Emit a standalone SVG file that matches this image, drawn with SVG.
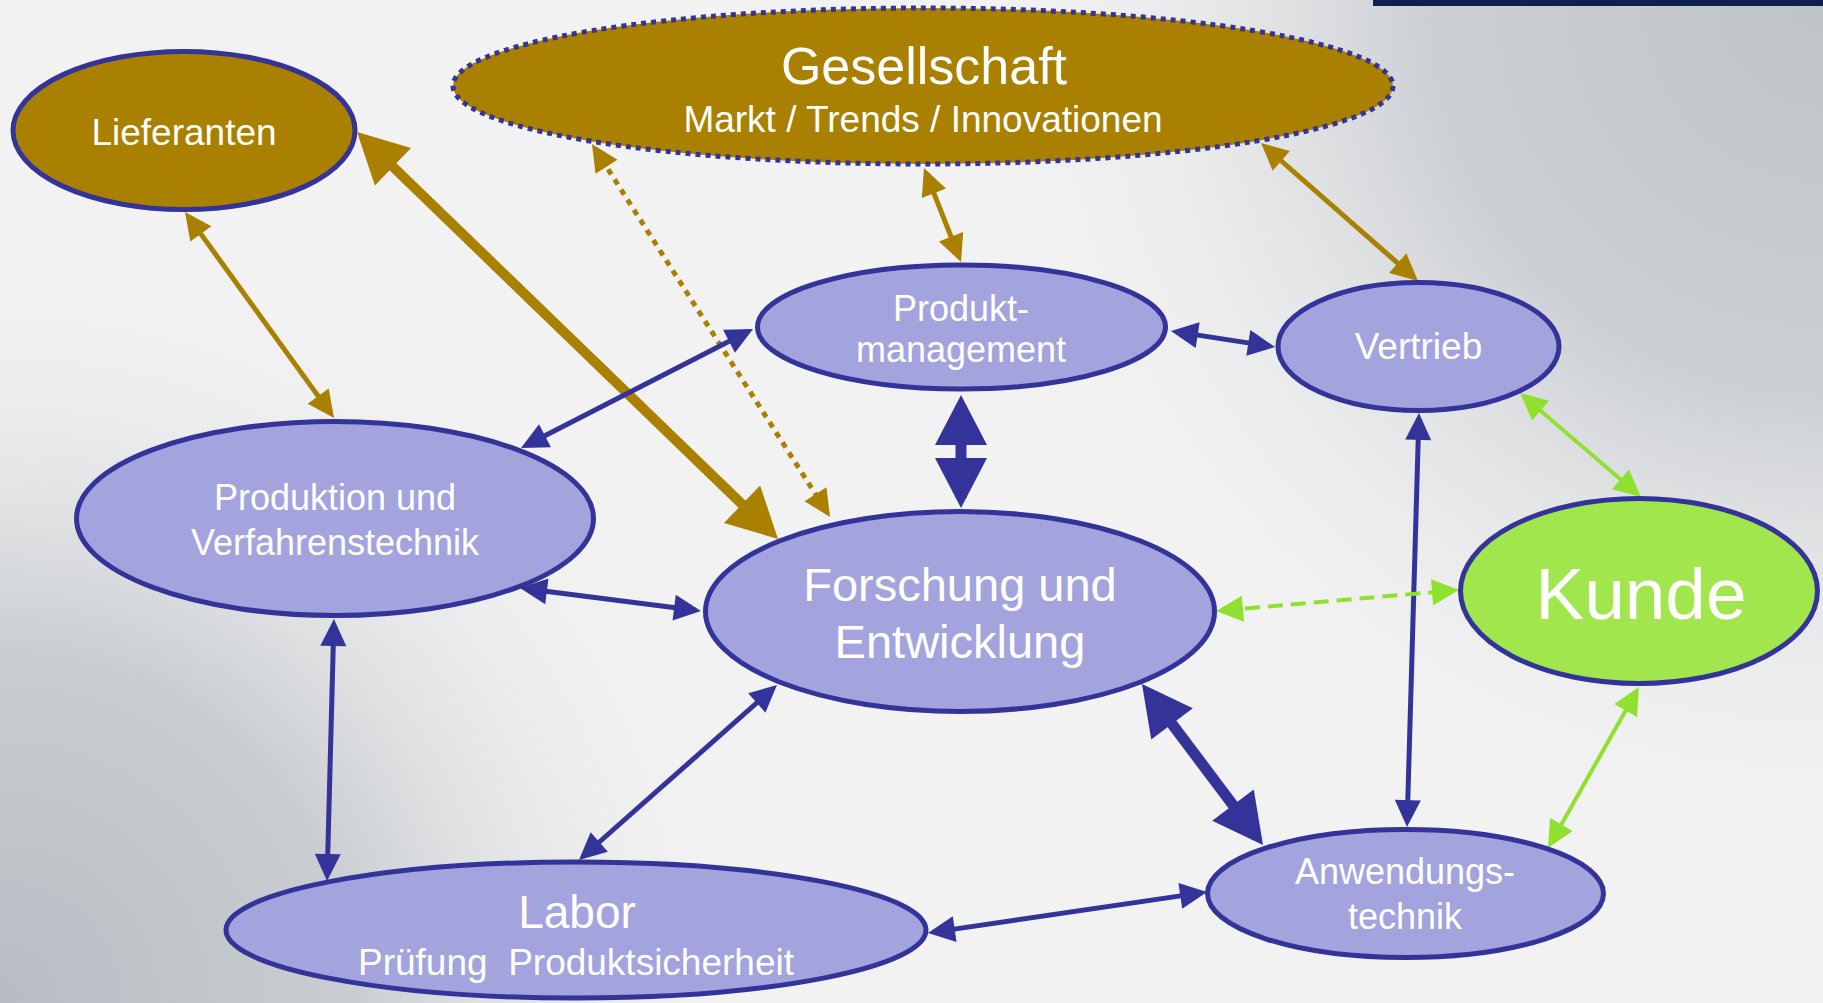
<svg xmlns="http://www.w3.org/2000/svg" width="1823" height="1003" viewBox="0 0 1823 1003">
<defs>
<radialGradient id="bgBL" gradientUnits="userSpaceOnUse" cx="0" cy="1003" r="780">
<stop offset="0" stop-color="#B6BCC2" stop-opacity="1"/>
<stop offset="0.45" stop-color="#BFC4C9" stop-opacity="0.8"/>
<stop offset="1" stop-color="#F2F2F2" stop-opacity="0"/>
</radialGradient>
<radialGradient id="bgTR" gradientUnits="userSpaceOnUse" cx="1823" cy="0" r="880">
<stop offset="0" stop-color="#BEC3C8" stop-opacity="1"/>
<stop offset="0.45" stop-color="#C6CACF" stop-opacity="0.85"/>
<stop offset="1" stop-color="#F2F2F2" stop-opacity="0"/>
</radialGradient>
<marker id="hOl" markerUnits="userSpaceOnUse" markerWidth="30" markerHeight="30" refX="21" refY="13" orient="auto-start-reverse" overflow="visible"><path d="M0,0 L27,13 L0,26 z" fill="#AA8000"/></marker>
<marker id="hBl" markerUnits="userSpaceOnUse" markerWidth="30" markerHeight="30" refX="21" refY="13" orient="auto-start-reverse" overflow="visible"><path d="M0,0 L27,13 L0,26 z" fill="#333399"/></marker>
<marker id="hGr" markerUnits="userSpaceOnUse" markerWidth="30" markerHeight="30" refX="21" refY="13" orient="auto-start-reverse" overflow="visible"><path d="M0,0 L27,13 L0,26 z" fill="#8FE02F"/></marker>
<marker id="HOl" markerUnits="userSpaceOnUse" markerWidth="60" markerHeight="60" refX="40" refY="26" orient="auto-start-reverse" overflow="visible"><path d="M0,0 L50,26 L0,52 z" fill="#AA8000"/></marker>
<marker id="HBl" markerUnits="userSpaceOnUse" markerWidth="60" markerHeight="60" refX="40" refY="26" orient="auto-start-reverse" overflow="visible"><path d="M0,0 L50,26 L0,52 z" fill="#333399"/></marker>
</defs>
<style>
.node{stroke:#333399;stroke-width:5}
.lav{fill:#A3A3DE}
.olv{fill:#AA8000}
.grn{fill:#A1E64C}
text{font-family:"Liberation Sans",Arial,sans-serif;fill:#FFFFFF;text-anchor:middle}
.ol{stroke:#AA8000;stroke-width:5;fill:none;marker-start:url(#hOl);marker-end:url(#hOl)}
.bl{stroke:#333399;stroke-width:5;fill:none;marker-start:url(#hBl);marker-end:url(#hBl)}
.gr{stroke:#8FE02F;stroke-width:4;fill:none;marker-start:url(#hGr);marker-end:url(#hGr)}
.OL{stroke:#AA8000;stroke-width:10;fill:none;marker-start:url(#HOl);marker-end:url(#HOl)}
.BL{stroke:#333399;stroke-width:11;fill:none;marker-start:url(#HBl);marker-end:url(#HBl)}
</style>
<rect x="0" y="0" width="1823" height="1003" fill="#F2F2F2"/>
<rect x="0" y="0" width="1823" height="1003" fill="url(#bgBL)"/>
<rect x="0" y="0" width="1823" height="1003" fill="url(#bgTR)"/>
<rect x="1373" y="0" width="450" height="6" fill="#0F1F52"/>

<g id="connectors">
<line class="ol" x1="188.5" y1="216.9" x2="330.5" y2="413.1"/>
<line class="OL" x1="364.2" y1="139" x2="770.8" y2="532"/>
<line class="ol" x1="595.2" y1="149.1" x2="826.8" y2="511.9" stroke-width="6" stroke-dasharray="6 6"/>
<line class="ol" x1="926.2" y1="173.6" x2="958.8" y2="256.4"/>
<line class="ol" x1="1265.5" y1="147" x2="1413.5" y2="277"/>
<line class="bl" x1="1176.9" y1="331.9" x2="1269.1" y2="346.1"/>
<line class="bl" x1="747.7" y1="331.7" x2="526.3" y2="445.3"/>
<line class="BL" x1="961" y1="405" x2="961" y2="498"/>
<line class="bl" x1="526" y1="588.8" x2="695" y2="610.2"/>
<line class="bl" x1="333.8" y1="625" x2="327.2" y2="875"/>
<line class="bl" x1="583.5" y1="856" x2="772.5" y2="689"/>
<line class="bl" x1="933.9" y1="932.1" x2="1201.1" y2="892.9"/>
<line class="BL" x1="1148" y1="692" x2="1257" y2="837"/>
<line class="bl" x1="1418.8" y1="419" x2="1407.2" y2="821"/>
<line class="gr" x1="1524.6" y1="396.9" x2="1636.4" y2="493.1"/>
<line class="gr" x1="1222" y1="610.5" x2="1453" y2="590.5" stroke-width="6" stroke-dasharray="15 8"/>
<line class="gr" x1="1636" y1="692.2" x2="1551" y2="842.8"/>
</g>

<g id="lieferanten">
<ellipse class="node olv" cx="184" cy="130.5" rx="171" ry="79"/>
<text x="184" y="145" font-size="37">Lieferanten</text>
</g>
<g id="gesellschaft">
<ellipse class="olv" cx="923" cy="86" rx="470" ry="78" stroke="#333399" stroke-width="5" stroke-dasharray="5 5"/>
<text x="924" y="84" font-size="52">Gesellschaft</text>
<text x="923" y="132" font-size="37">Markt / Trends / Innovationen</text>
</g>
<g id="produktmanagement">
<ellipse class="node lav" cx="961.5" cy="327" rx="204" ry="62"/>
<text x="961" y="321" font-size="36">Produkt-</text>
<text x="961" y="362" font-size="36">management</text>
</g>
<g id="vertrieb">
<ellipse class="node lav" cx="1418.5" cy="346.5" rx="140.5" ry="64"/>
<text x="1418.5" y="359" font-size="37">Vertrieb</text>
</g>
<g id="produktion">
<ellipse class="node lav" cx="335" cy="518.5" rx="258.5" ry="97"/>
<text x="335" y="510" font-size="36">Produktion und</text>
<text x="335" y="555" font-size="36">Verfahrenstechnik</text>
</g>
<g id="forschung">
<ellipse class="node lav" cx="960" cy="611.5" rx="254.5" ry="100" stroke-width="7"/>
<text x="960" y="601" font-size="47">Forschung und</text>
<text x="960" y="658" font-size="47">Entwicklung</text>
</g>
<g id="kunde">
<ellipse class="node grn" cx="1639" cy="591" rx="178.5" ry="92.5"/>
<text x="1641" y="619" font-size="73">Kunde</text>
</g>
<g id="anwendungstechnik">
<ellipse class="node lav" cx="1405.5" cy="893.5" rx="198" ry="64"/>
<text x="1405" y="884" font-size="36">Anwendungs-</text>
<text x="1405" y="929" font-size="36">technik</text>
</g>
<g id="labor">
<ellipse class="node lav" cx="576" cy="930" rx="350" ry="68"/>
<text x="577" y="928" font-size="46">Labor</text>
<text x="576" y="975" font-size="37" xml:space="preserve">Prüfung  Produktsicherheit</text>
</g>
</svg>
